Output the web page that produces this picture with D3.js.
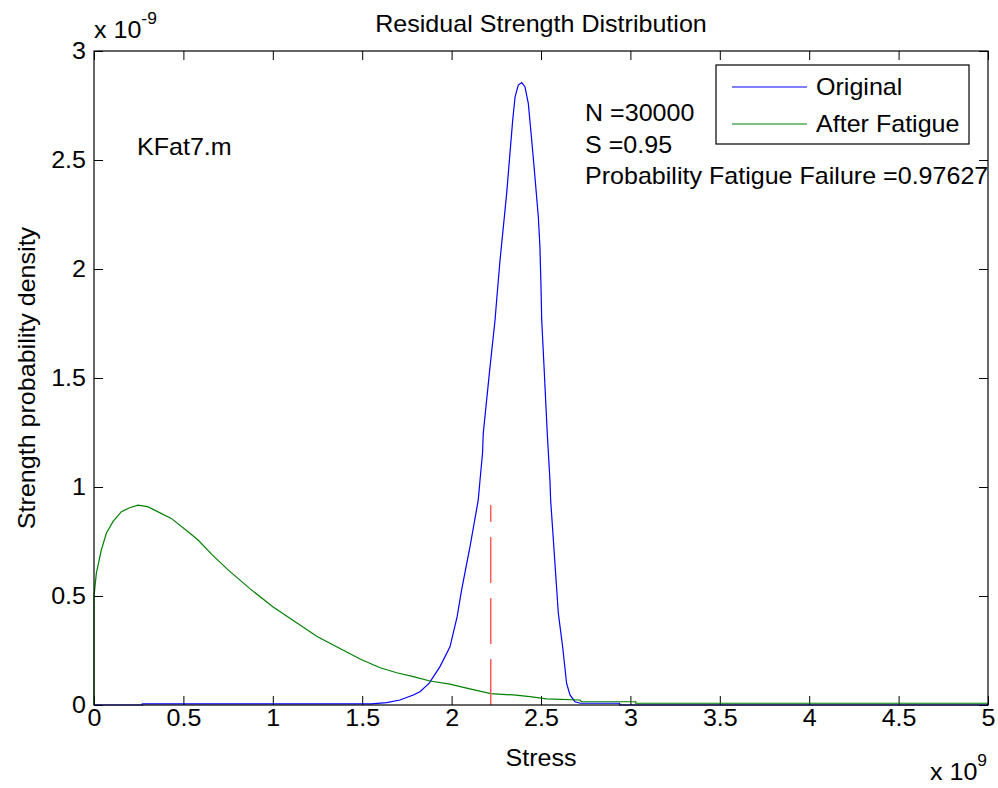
<!DOCTYPE html>
<html>
<head>
<meta charset="utf-8">
<script src="https://cdn.jsdelivr.net/npm/d3@7"></script>
<style>
  body { margin: 0; background: #fff; }
  svg { font-family: "Liberation Sans", Arial, sans-serif; }
</style>
</head>
<body>
<div id="chart"></div>
<script>
// stress in units of 1e9, density in units of 1e-9
const origX = [0, 0.27, 0.27, 1.55, 1.637, 1.711, 1.786, 1.823, 1.875, 1.935, 1.991, 2.031, 2.056, 2.103, 2.149, 2.159, 2.173, 2.177, 2.215, 2.243, 2.252, 2.271, 2.308, 2.341, 2.355, 2.373, 2.392, 2.41, 2.429, 2.448, 2.466, 2.485, 2.494, 2.5, 2.504, 2.517, 2.535, 2.55, 2.554, 2.597, 2.621, 2.643, 2.662, 2.69, 2.72, 2.94, 2.94, 5];
const origY = [0, 0, 0.005, 0.005, 0.011, 0.023, 0.046, 0.061, 0.1, 0.176, 0.267, 0.405, 0.528, 0.726, 0.94, 1.032, 1.155, 1.246, 1.552, 1.766, 1.858, 2.041, 2.347, 2.676, 2.79, 2.844, 2.855, 2.836, 2.76, 2.592, 2.423, 2.24, 2.102, 1.919, 1.766, 1.552, 1.246, 1.032, 0.94, 0.42, 0.267, 0.1, 0.046, 0.015, 0.008, 0.008, 0, 0];

const fatX = [0, 0, 0.013, 0.041, 0.069, 0.106, 0.153, 0.2, 0.246, 0.3, 0.339, 0.432, 0.526, 0.582, 0.66, 0.75, 0.87, 1.0, 1.25, 1.488, 1.6, 1.693, 1.786, 1.879, 1.991, 2.066, 2.219, 2.345, 2.438, 2.531, 2.718, 2.727, 3.03, 3.03, 5];
const fatY = [0, 0.497, 0.604, 0.711, 0.788, 0.841, 0.887, 0.905, 0.917, 0.91, 0.894, 0.856, 0.795, 0.757, 0.69, 0.62, 0.535, 0.451, 0.313, 0.211, 0.171, 0.148, 0.13, 0.11, 0.096, 0.081, 0.052, 0.046, 0.038, 0.028, 0.023, 0.015, 0.015, 0.008, 0.008];

const failX = 2.219;
const failTop = 0.917;

const xTicks = [0, 0.5, 1, 1.5, 2, 2.5, 3, 3.5, 4, 4.5, 5];
const yTicks = [0, 0.5, 1, 1.5, 2, 2.5, 3];
const seriesNames = ["Original", "After Fatigue"];
const seriesColors = ["#0000ff", "#008000"];
const notes = ["N =30000", "S =0.95", "Probability Fatigue Failure =0.97627"];

const width = 998, height = 788;
const margin = { left: 94, right: 10, top: 51, bottom: 83 };
const w = width - margin.left - margin.right;
const h = height - margin.top - margin.bottom;
const fs = 23;     // font size
const sx = 1.09;   // text is a bit wider than the font in the original

const svg = d3.select("#chart").append("svg")
  .attr("width", width)
  .attr("height", height);

const g = svg.append("g").attr("transform", `translate(${margin.left},${margin.top})`);

const x = d3.scaleLinear().domain([0, 5]).range([0, w]);
const y = d3.scaleLinear().domain([0, 3]).range([h, 0]);

const fmt = d => String(d);

// text placed at (px,py), stretched horizontally
function label(parent, px, py, txt, rot) {
  return parent.append("text")
    .attr("transform", `translate(${px},${py})` + (rot ? ` rotate(${rot})` : "") + ` scale(${sx},1)`)
    .attr("font-size", fs)
    .text(txt);
}

// axes, ticks pointing inward
const xb = g.append("g").attr("transform", `translate(0,${h})`)
  .call(d3.axisBottom(x).tickValues(xTicks).tickFormat(fmt).tickSizeInner(-9).tickSizeOuter(0).tickPadding(5));
const xt = g.append("g")
  .call(d3.axisTop(x).tickValues(xTicks).tickFormat("").tickSizeInner(-9).tickSizeOuter(0));
const yl = g.append("g")
  .call(d3.axisLeft(y).tickValues(yTicks).tickFormat(fmt).tickSizeInner(-9).tickSizeOuter(0).tickPadding(8));
const yr = g.append("g").attr("transform", `translate(${w},0)`)
  .call(d3.axisRight(y).tickValues(yTicks).tickFormat("").tickSizeInner(-9).tickSizeOuter(0));

[xb, xt, yl, yr].forEach(a => {
  a.select(".domain").remove();
  a.selectAll("text").attr("font-size", fs).attr("fill", "#000")
    .attr("font-family", "Liberation Sans, Arial, sans-serif")
    .attr("transform", `scale(${sx},1)`);
  a.selectAll(".tick line").attr("stroke", "#000");
});
yl.selectAll("text").attr("x", -8 / sx);

const line = d3.line().x(d => x(d[0])).y(d => y(d[1]));

g.append("path")
  .datum(d3.zip(origX, origY))
  .attr("fill", "none")
  .attr("stroke", seriesColors[0])
  .attr("stroke-width", 1.2)
  .attr("d", line);

g.append("path")
  .datum(d3.zip(fatX, fatY))
  .attr("fill", "none")
  .attr("stroke", seriesColors[1])
  .attr("stroke-width", 1.2)
  .attr("d", line);

// failure threshold, dashed from the bottom up
g.append("line")
  .attr("x1", x(failX)).attr("x2", x(failX))
  .attr("y1", y(0)).attr("y2", y(failTop))
  .attr("stroke", "#ff5c5c")
  .attr("stroke-width", 1.5)
  .attr("stroke-dasharray", "46,15");

// frame
g.append("rect")
  .attr("width", w).attr("height", h)
  .attr("fill", "none").attr("stroke", "#000").attr("stroke-width", 1.2);

// legend
const lg = g.append("g").attr("transform", `translate(${716 - margin.left},${65 - margin.top})`);
lg.append("rect").attr("width", 253).attr("height", 79)
  .attr("fill", "#fff").attr("stroke", "#000").attr("stroke-width", 1.2);
seriesNames.forEach((name, i) => {
  const yy = 22 + i * 37;
  lg.append("line").attr("x1", 16).attr("x2", 91).attr("y1", yy).attr("y2", yy)
    .attr("stroke", seriesColors[i]).attr("stroke-width", 1.2);
  label(lg, 100, yy + 8, name);
});

// annotations
notes.forEach((t, i) => label(svg, 585, 121 + i * 31.5, t));
label(svg, 137, 155, "KFat7.m");

// title and labels
label(svg, margin.left + w / 2, 32, "Residual Strength Distribution").attr("text-anchor", "middle");
label(svg, margin.left + w / 2, 766, "Stress").attr("text-anchor", "middle");
label(svg, 35, margin.top + h / 2, "Strength probability density", -90).attr("text-anchor", "middle");

// exponent labels
const ey = label(svg, 94, 38, "");
ey.append("tspan").text("x 10");
ey.append("tspan").attr("dy", -14).attr("font-size", 16).text("-9");
const ex = label(svg, 930, 780, "");
ex.append("tspan").text("x 10");
ex.append("tspan").attr("dy", -14).attr("font-size", 16).text("9");
</script>
</body>
</html>
